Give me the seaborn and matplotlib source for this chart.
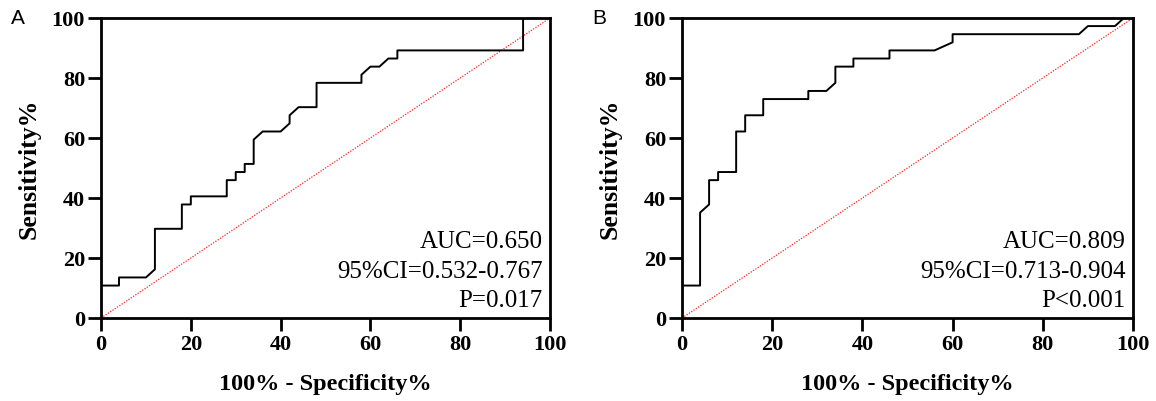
import numpy as np
import pandas as pd
import matplotlib
matplotlib.use("Agg")
import matplotlib.pyplot as plt
import seaborn as sns

# ROC coordinates: 1 - specificity (%) and number of true positives out of 37
fpr_a = [0, 0, 4, 4, 10, 12, 12, 18, 18, 20, 20, 28, 28, 30, 30, 32, 32, 34, 34, 36,
         40, 42, 42, 44, 48, 48, 58, 58, 60, 62, 64, 66, 66, 94, 94, 100]
tp_a = [0, 4, 4, 5, 5, 6, 11, 11, 14, 14, 15, 15, 17, 17, 18, 18, 19, 19, 22, 23,
        23, 24, 25, 26, 26, 29, 29, 30, 31, 31, 32, 32, 33, 33, 37, 37]

fpr_b = [0, 0, 4, 4, 6, 6, 8, 8, 12, 12, 14, 14, 18, 18, 28, 28, 32, 34, 34, 38, 38,
         46, 46, 56, 60, 60, 88, 90, 96, 98, 100]
tp_b = [0, 4, 4, 13, 14, 17, 17, 18, 18, 23, 23, 25, 25, 27, 27, 28, 28, 29, 31, 31, 32,
        32, 33, 33, 34, 35, 35, 36, 36, 37, 37]

n_pos = 37
panel_letters = ["A", "B"]
stats_a = ["AUC=0.650", "95%CI=0.532-0.767", "P=0.017"]
stats_b = ["AUC=0.809", "95%CI=0.713-0.904", "P<0.001"]
ticks = [0, 20, 40, 60, 80, 100]

sns.set_style("ticks")
plt.rcParams["font.family"] = ["Liberation Serif", "DejaVu Serif"]
plt.rcParams["text.color"] = "black"
plt.rcParams["axes.labelcolor"] = "black"

fig = plt.figure(figsize=(11.56, 4.02), dpi=100)
ax_a = fig.add_axes([0.0874, 0.2065, 0.3884, 0.7463])
ax_b = fig.add_axes([0.5900, 0.2065, 0.3901, 0.7463])

panels = [
    (ax_a, fpr_a, tp_a, stats_a, panel_letters[0]),
    (ax_b, fpr_b, tp_b, stats_b, panel_letters[1]),
]

for ax, fpr, tp, stats, letter in panels:
    df = pd.DataFrame({"fpr": fpr, "tpr": np.array(tp) / n_pos * 100})
    sns.lineplot(data=df, x="fpr", y="tpr", sort=False, estimator=None,
                 color="black", linewidth=1.4, ax=ax, zorder=3)
    # chance line
    ax.plot([0, 100], [0, 100], color="#ff2020", linestyle=(0, (1, 1.2)),
            linewidth=0.9, zorder=2)
    ax.set_xlim(0, 100)
    ax.set_ylim(0, 100)
    ax.set_xticks(ticks)
    ax.set_yticks(ticks)
    ax.tick_params(direction="out", length=9.5, width=2, labelsize=16, pad=2,
                   colors="black")
    for lab in ax.get_xticklabels() + ax.get_yticklabels():
        lab.set_fontweight("bold")
        lab.set_color("black")
    for sp in ax.spines.values():
        sp.set_linewidth(2)
        sp.set_color("black")
        sp.set_visible(True)
    ax.set_xlabel("100% - Specificity%", fontsize=17.5, fontweight="bold",
                  labelpad=14, color="black")
    ax.set_ylabel("Sensitivity%", fontsize=18.5, fontweight="bold",
                  labelpad=8, color="black")
    for i, s in enumerate(stats):
        ax.text(0.983, 0.255 - i * 0.097, s, transform=ax.transAxes, ha="right",
                va="center", fontsize=18, color="black")
    bbox = ax.get_position()
    fig.text(bbox.x0 - 0.078, 0.955, letter, fontsize=15, color="black",
             family=["Liberation Sans", "DejaVu Sans"], ha="left", va="center")

fig.savefig("out.png", dpi=100)
